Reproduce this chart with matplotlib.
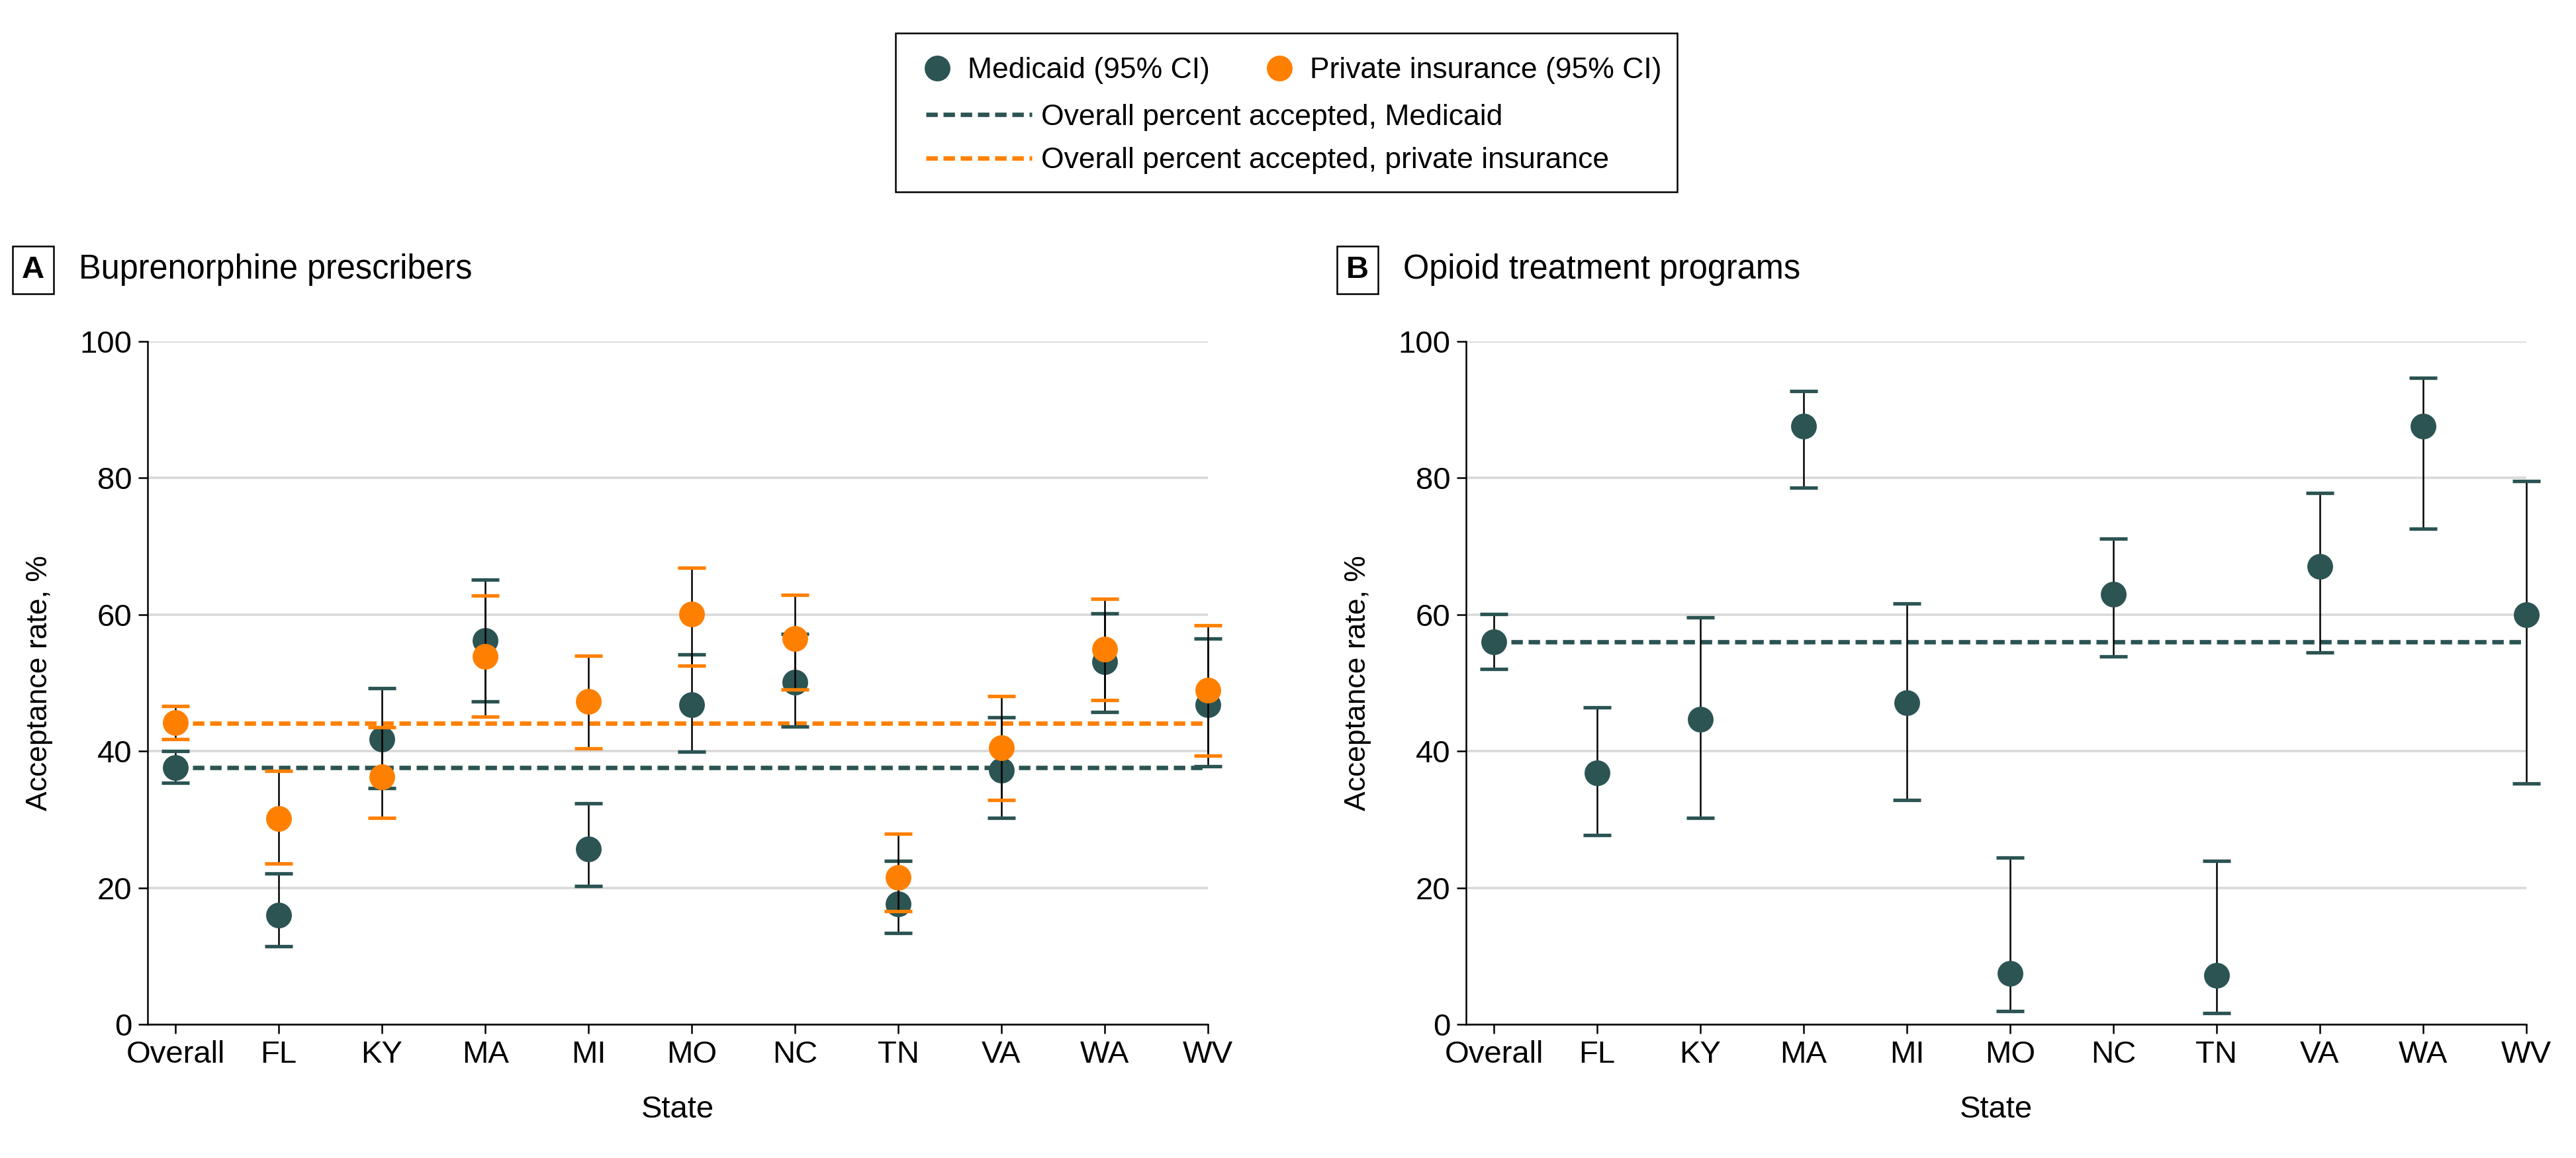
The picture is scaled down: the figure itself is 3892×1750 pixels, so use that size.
import numpy as np
import matplotlib.pyplot as plt
from matplotlib.lines import Line2D
from matplotlib.patches import Rectangle

# data
states = ['Overall', 'FL', 'KY', 'MA', 'MI', 'MO', 'NC', 'TN', 'VA', 'WA', 'WV']

bup_medicaid = [37.6, 16.0, 41.8, 56.2, 25.7, 46.8, 50.1, 17.6, 37.2, 53.1, 46.8]
bup_medicaid_lo = [35.4, 11.4, 34.6, 47.3, 20.3, 39.9, 43.6, 13.4, 30.2, 45.7, 37.8]
bup_medicaid_hi = [40.0, 22.1, 49.2, 65.1, 32.4, 54.2, 57.2, 23.9, 45.0, 60.2, 56.5]

bup_private = [44.2, 30.1, 36.2, 53.9, 47.3, 60.1, 56.5, 21.5, 40.5, 54.9, 48.9]
bup_private_lo = [41.8, 23.6, 30.2, 45.1, 40.4, 52.5, 49.0, 16.6, 32.9, 47.5, 39.3]
bup_private_hi = [46.6, 37.1, 43.5, 62.8, 54.0, 66.9, 62.9, 27.9, 48.1, 62.3, 58.4]

otp_medicaid = [56.0, 36.8, 44.7, 87.6, 47.1, 7.5, 63.0, 7.2, 67.1, 87.6, 60.0]
otp_medicaid_lo = [52.0, 27.7, 30.2, 78.6, 32.9, 1.9, 53.9, 1.7, 54.5, 72.6, 35.3]
otp_medicaid_hi = [60.1, 46.4, 59.6, 92.7, 61.6, 24.4, 71.1, 23.9, 77.8, 94.7, 79.6]

bup_overall_medicaid = 37.6
bup_overall_private = 44.1
otp_overall_medicaid = 56.0

teal = '#2b5453'
orange = '#ff8000'
dash = (0, (2.6, 1.3))
dash_lw = 2.4

plt.rcParams['font.family'] = ['Liberation Sans', 'DejaVu Sans']
fs = 17

fig = plt.figure(figsize=(19.46, 8.75), dpi=200)
axA = fig.add_axes([0.0573, 0.1154, 0.4116, 0.5897])
axB = fig.add_axes([0.5691, 0.1154, 0.4116, 0.5897])


def ci_points(ax, vals, lo, hi, color, z):
    x = np.arange(len(vals))
    vals = np.array(vals)
    err = [vals - np.array(lo), np.array(hi) - vals]
    _, caps, bars = ax.errorbar(x, vals, yerr=err, fmt='o', color=color, ms=13,
                                ecolor='black', elinewidth=0.9, capsize=7.4,
                                capthick=1.9, zorder=z)
    for c in caps:
        c.set_markeredgecolor(color)
        c.set_markerfacecolor(color)
        c.set_clip_on(False)
    for b in bars:
        b.set_clip_on(False)


n = len(states)
axA.hlines(bup_overall_medicaid, 0, n - 1, colors=teal, linestyles=dash, lw=dash_lw, zorder=2)
axA.hlines(bup_overall_private, 0, n - 1, colors=orange, linestyles=dash, lw=dash_lw, zorder=2)
ci_points(axA, bup_medicaid, bup_medicaid_lo, bup_medicaid_hi, teal, 3)
ci_points(axA, bup_private, bup_private_lo, bup_private_hi, orange, 4)

axB.hlines(otp_overall_medicaid, 0, n - 1, colors=teal, linestyles=dash, lw=dash_lw, zorder=2)
ci_points(axB, otp_medicaid, otp_medicaid_lo, otp_medicaid_hi, teal, 3)

for ax in (axA, axB):
    for line in ax.lines:
        line.set_clip_on(False)
    ax.set_xlim(-0.27, n - 1)
    ax.set_ylim(0, 100)
    ax.set_xticks(range(n))
    ax.set_xticklabels(states)
    ax.set_yticks(range(0, 101, 20))
    ax.yaxis.grid(True, color='#d9d9d9', lw=1.3)
    ax.set_axisbelow(True)
    for s in ('top', 'right'):
        ax.spines[s].set_visible(False)
    ax.spines['left'].set_linewidth(0.9)
    ax.spines['bottom'].set_linewidth(0.9)
    ax.tick_params(labelsize=fs, length=5, width=0.9)
    ax.set_xlabel('State', fontsize=fs, labelpad=14)
    ax.set_ylabel('Acceptance rate, %', fontsize=16, labelpad=14.5)

# panel titles
for x0, letter, title in [(0.0128, 'A', 'Buprenorphine prescribers'),
                          (0.527, 'B', 'Opioid treatment programs')]:
    fig.text(x0, 0.767, letter, fontsize=fs, fontweight='bold', ha='center', va='center',
             bbox=dict(boxstyle='square,pad=0.3', fc='white', ec='black', lw=0.9))
    fig.text(x0 + 0.0178, 0.767, title, fontsize=18.2, ha='left', va='center')

# legend
lfs = 16
marker_handles = [Line2D([], [], marker='o', ls='none', color=teal, ms=13),
                  Line2D([], [], marker='o', ls='none', color=orange, ms=13)]
leg1 = fig.legend(marker_handles, ['Medicaid (95% CI)', 'Private insurance (95% CI)'],
                  loc='center left', bbox_to_anchor=(0.3495, 0.939), ncol=2,
                  frameon=False, fontsize=lfs, borderpad=0, handlelength=1.5,
                  handletextpad=0.3, columnspacing=1.6)
line_handles = [Line2D([], [], color=teal, ls=dash, lw=dash_lw),
                Line2D([], [], color=orange, ls=dash, lw=dash_lw)]
leg2 = fig.legend(line_handles, ['Overall percent accepted, Medicaid',
                                 'Overall percent accepted, private insurance'],
                  loc='center left', bbox_to_anchor=(0.3538, 0.880), frameon=False,
                  fontsize=lfs, borderpad=0, handlelength=3.6, handletextpad=0.3,
                  labelspacing=0.55)
fig.patches.append(Rectangle((1353 / 3892, 1 - 290 / 1750), (2534 - 1353) / 3892, 240 / 1750,
                             transform=fig.transFigure, fill=False, ec='black', lw=0.9))

fig.savefig('out.png', dpi=200)
